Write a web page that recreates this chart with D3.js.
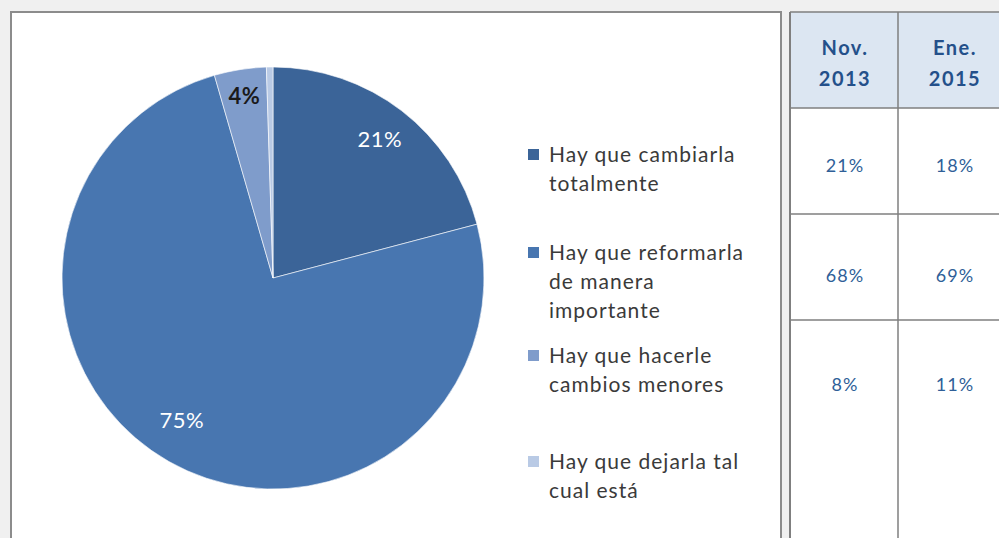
<!DOCTYPE html>
<html><head><meta charset="utf-8">
<script src="https://cdn.jsdelivr.net/npm/d3@7"></script>
<style>
html,body{margin:0;padding:0;background:#f0f0f0;overflow:hidden;}
svg{display:block;}
</style></head>
<body>
<svg id="chart" width="999" height="538"></svg>
<script>
// ---- data ----
const categories = ["Hay que cambiarla totalmente", "Hay que reformarla de manera importante", "Hay que hacerle cambios menores", "Hay que dejarla tal cual está"];
const legendLines = [["Hay que cambiarla", "totalmente"], ["Hay que reformarla", "de manera", "importante"], ["Hay que hacerle", "cambios menores"], ["Hay que dejarla tal", "cual está"]];
const pieValues = [21, 75, 4, 0.5];
const pieLabels = ["21%", "75%", "4%", ""];
const colors = ["#3b6498", "#4876b0", "#7f9ccb", "#b9cae5"];
const tableHeaders = [["Nov.", "2013"], ["Ene.", "2015"]];
const tableNov2013 = ["21%", "68%", "8%", ""];
const tableEne2015 = ["18%", "69%", "11%", ""];

const svg = d3.select("#chart");
const font = "Lato, 'Open Sans', sans-serif";

// chart frame
svg.append("rect").attr("x", 11).attr("y", 12).attr("width", 770).attr("height", 540)
  .attr("fill", "#fff").attr("stroke", "#8c8c8c").attr("stroke-width", 2);

// pie
const cx = 273, cy = 278, r = 211;
const pie = d3.pie().sort(null).value(d => d);
const arc = d3.arc().innerRadius(0).outerRadius(r);
const g = svg.append("g").attr("transform", `translate(${cx},${cy})`);
const arcs = pie(pieValues);
g.selectAll("path").data(arcs).join("path")
  .attr("d", arc).attr("fill", (d, i) => colors[i]).attr("stroke", "#fff").attr("stroke-width", 0.6);

const labelPos = [0.83, 0.80, 0.87, 0.8];
const labelShift = [[0, 0], [-8, -5], [0, 0], [0, 0]];
g.selectAll("text").data(arcs).join("text")
  .attr("transform", (d, i) => {
    const a = d3.arc().innerRadius(r * labelPos[i]).outerRadius(r * labelPos[i]);
    const [x, y] = a.centroid(d);
    return `translate(${x + labelShift[i][0]},${y + labelShift[i][1]})`;
  })
  .attr("text-anchor", "middle").attr("dy", "0.35em")
  .attr("font-family", font).attr("font-size", 22).attr("letter-spacing", 0.5)
  .attr("font-weight", (d, i) => i === 2 ? 700 : 400)
  .attr("fill", (d, i) => i === 2 ? "#1a1a1a" : "#ffffff")
  .text((d, i) => pieLabels[i]);

// legend
const legendY = [155, 253, 356, 462];
const lineH = 29;
const lg = svg.append("g");
legendLines.forEach((lines, i) => {
  lg.append("rect").attr("x", 528).attr("y", legendY[i] - 6).attr("width", 11).attr("height", 11).attr("fill", colors[i]);
  lines.forEach((t, j) => {
    lg.append("text").attr("x", 549).attr("y", legendY[i] + j * lineH).attr("dy", "0.35em")
      .attr("font-family", font).attr("font-size", 21).attr("letter-spacing", 1)
      .attr("fill", "#3a3a3a").text(t);
  });
});

// table
const tx = d3.scaleOrdinal().domain([0, 1]).range([790, 898]);
const rowY = [12, 108, 214, 320, 560];
const tg = svg.append("g");
tg.append("rect").attr("x", 790).attr("y", 12).attr("width", 230).attr("height", 96).attr("fill", "#dce6f2");
tg.append("rect").attr("x", 790).attr("y", 108).attr("width", 230).attr("height", 460).attr("fill", "#fff");
[790, 898].forEach(x => tg.append("line").attr("x1", x).attr("x2", x).attr("y1", 12).attr("y2", 538)
  .attr("stroke", "#7f7f7f").attr("stroke-width", x === 790 ? 2 : 1.5));
rowY.slice(0, 4).forEach(y => tg.append("line").attr("x1", 790).attr("x2", 999).attr("y1", y).attr("y2", y)
  .attr("stroke", "#7f7f7f").attr("stroke-width", 1.5));

tableHeaders.forEach((h, c) => {
  h.forEach((t, j) => {
    tg.append("text").attr("x", tx(c) + (c === 0 ? 55 : 57)).attr("y", 48 + j * 31).attr("dy", "0.35em")
      .attr("text-anchor", "middle").attr("font-family", font).attr("font-weight", 700)
      .attr("font-size", 20).attr("letter-spacing", 1.5).attr("fill", "#24508a").text(t);
  });
});
const cellY = [166, 276, 385];
[tableNov2013, tableEne2015].forEach((col, c) => {
  col.forEach((v, i) => {
    if (!v) return;
    tg.append("text").attr("x", tx(c) + (c === 0 ? 55 : 57)).attr("y", cellY[i]).attr("dy", "0.35em")
      .attr("text-anchor", "middle").attr("font-family", font)
      .attr("font-size", 18).attr("letter-spacing", 1).attr("fill", "#2f5f98").text(v);
  });
});
</script>
</body></html>
